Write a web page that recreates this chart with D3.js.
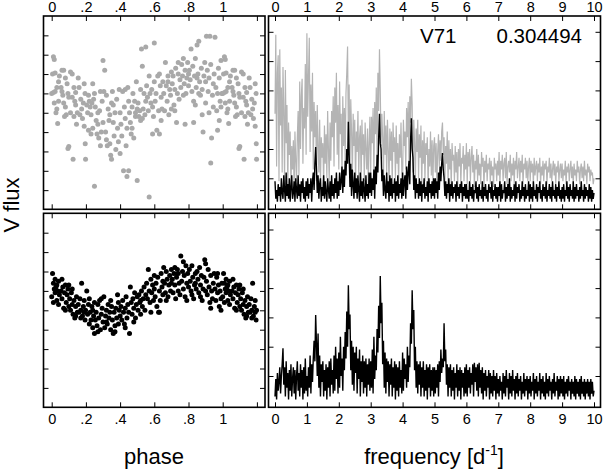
<!DOCTYPE html>
<html><head><meta charset="utf-8">
<script src="https://cdn.jsdelivr.net/npm/d3@7"></script>
<style>
html,body{margin:0;padding:0;background:#fff;}
svg{display:block;}
text{font-family:"Liberation Sans",Arial,Helvetica,sans-serif;}
</style></head>
<body>
<svg id="c" width="603" height="471"></svg>
<script>
// ---------------- DATA ----------------
const starName = "V71";
const periodLabel = "0.304494";
const phaseTicks = [0, 0.2, 0.4, 0.6, 0.8, 1, 1.2];
const phaseTickLabels = ["0", ".2", ".4", ".6", ".8", "1", ""];
const freqTicks = [0,1,2,3,4,5,6,7,8,9,10];
const fluxTicks = [1,2,3,4,5,6,7,8,9];
const powerTicks = [1,2,3,4,5,6];
const freqStep = 0.025;

// original light curve, phased [phase, flux]
const phasedOriginal = [
[0.01,7.9],[0.015,7.75],[0.005,7.0],[0.02,7.05],[0.0,6.0],[0.01,6.05],[0.02,6.1],[0.03,5.2],[0.025,5.0],[0.035,4.45],[0.04,5.6],[0.04,6.6],[0.045,6.9],[0.03,6.3],[0.015,5.5],
[0.06,7.2],[0.07,7.2],[0.08,6.8],[0.055,6.3],[0.065,5.9],[0.07,5.5],[0.08,5.3],[0.085,4.9],[0.09,6.5],[0.095,6.0],[0.1,3.25],[0.095,3.15],[0.06,6.1],[0.075,4.8],[0.1,5.8],
[0.11,7.1],[0.12,7.0],[0.13,6.3],[0.12,5.8],[0.14,5.4],[0.11,5.0],[0.13,4.8],[0.14,6.05],[0.125,2.6],[0.15,5.0],[0.145,4.4],[0.135,5.6],
[0.155,6.8],[0.16,6.3],[0.17,5.7],[0.175,5.2],[0.18,4.7],[0.19,4.3],[0.195,6.0],[0.198,2.6],[0.196,3.4],[0.165,4.9],[0.185,5.5],[0.19,6.5],
[0.205,5.4],[0.21,5.0],[0.215,5.9],[0.22,5.6],[0.225,5.3],[0.23,4.9],[0.235,5.5],[0.24,4.2],[0.245,5.7],[0.25,6.0],[0.215,4.1],[0.23,3.9],[0.24,6.5],[0.25,1.2],
[0.255,5.3],[0.26,4.6],[0.27,4.4],[0.275,3.7],[0.28,5.1],[0.285,6.1],[0.29,4.0],[0.3,7.7],[0.295,5.6],[0.27,5.0],[0.265,3.9],[0.285,3.3],[0.3,4.5],
[0.31,7.2],[0.305,6.1],[0.315,4.0],[0.32,3.6],[0.33,5.2],[0.335,4.6],[0.34,3.4],[0.345,2.8],[0.35,5.5],[0.32,5.9],[0.325,3.3],[0.35,2.6],[0.34,4.9],
[0.355,6.1],[0.36,4.5],[0.365,3.8],[0.37,5.0],[0.38,5.7],[0.385,4.2],[0.39,3.5],[0.395,6.2],[0.4,5.0],[0.375,3.1],[0.4,2.9],[0.36,5.4],
[0.405,4.4],[0.41,3.8],[0.415,6.1],[0.42,2.0],[0.425,5.3],[0.43,4.7],[0.435,3.3],[0.44,1.7],[0.445,6.3],[0.45,5.6],[0.45,2.0],[0.43,6.2],[0.44,4.2],
[0.455,5.0],[0.46,4.5],[0.465,3.9],[0.47,5.3],[0.475,6.0],[0.48,3.7],[0.485,5.6],[0.49,4.8],[0.495,6.6],[0.5,5.2],[0.5,1.5],[0.47,4.2],[0.49,5.0],
[0.505,5.5],[0.51,4.8],[0.515,5.1],[0.52,6.2],[0.525,8.3],[0.53,7.4],[0.53,4.7],[0.535,5.2],[0.54,6.0],[0.545,4.9],[0.55,5.6],[0.55,8.4],[0.52,4.6],
[0.555,6.4],[0.56,5.8],[0.565,5.1],[0.57,0.65],[0.57,6.9],[0.575,6.0],[0.58,5.5],[0.585,6.2],[0.59,5.3],[0.595,4.8],[0.6,6.6],[0.6,8.6],[0.59,3.9],
[0.605,5.6],[0.61,6.0],[0.615,4.1],[0.62,6.9],[0.625,5.1],[0.63,3.9],[0.635,6.4],[0.64,5.8],[0.645,5.2],[0.65,6.6],[0.63,7.0],[0.64,4.6],
[0.655,6.0],[0.66,5.1],[0.665,7.6],[0.67,6.4],[0.675,5.6],[0.68,6.9],[0.685,4.9],[0.69,6.2],[0.695,5.9],[0.7,7.1],[0.7,5.2],[0.68,6.6],
[0.705,6.5],[0.71,6.9],[0.715,5.4],[0.72,6.2],[0.725,7.3],[0.73,4.5],[0.735,6.0],[0.74,7.0],[0.745,5.7],[0.75,6.7],[0.74,7.6],[0.72,5.1],
[0.755,6.3],[0.76,7.5],[0.765,6.9],[0.77,5.9],[0.775,6.5],[0.78,7.2],[0.785,6.0],[0.79,6.8],[0.795,7.6],[0.8,6.4],[0.78,4.4],[0.8,7.0],[0.77,7.8],
[0.805,7.2],[0.81,6.7],[0.815,8.3],[0.82,6.1],[0.825,7.4],[0.83,5.6],[0.835,6.9],[0.84,7.8],[0.845,6.3],[0.85,8.5],[0.83,4.5],[0.85,6.8],[0.84,5.4],
[0.855,7.0],[0.86,8.7],[0.865,6.6],[0.87,5.9],[0.875,7.3],[0.88,6.2],[0.885,4.0],[0.89,6.9],[0.895,7.6],[0.9,5.5],[0.88,4.9],[0.9,6.6],[0.86,6.0],
[0.905,8.95],[0.91,7.2],[0.915,6.1],[0.92,6.8],[0.925,8.95],[0.93,2.4],[0.935,3.7],[0.94,5.9],[0.945,6.5],[0.95,7.0],[0.93,7.5],[0.945,5.3],[0.92,5.0],
[0.955,8.9],[0.96,6.3],[0.965,5.1],[0.97,6.0],[0.975,7.3],[0.98,4.6],[0.985,5.6],[0.99,7.7],[0.995,6.0],[0.97,4.1],[0.99,5.3],[0.98,6.8]
];

// prewhitened light curve, phased [phase, flux]
const phasedCleaned = [
[0.005,6.9],[0.01,6.4],[0.0,5.7],[0.015,6.1],[0.02,5.9],[0.025,6.2],[0.03,5.5],[0.035,6.0],[0.04,6.5],[0.045,5.8],[0.01,5.4],[0.03,6.3],[0.04,5.3],[0.02,6.6],
[0.055,6.0],[0.06,5.6],[0.065,6.2],[0.07,5.1],[0.075,5.9],[0.08,6.3],[0.085,5.4],[0.09,5.8],[0.095,6.1],[0.1,5.2],[0.06,6.6],[0.08,5.0],[0.1,6.3],
[0.105,5.6],[0.11,5.0],[0.115,5.9],[0.12,5.3],[0.125,4.8],[0.13,5.5],[0.135,4.6],[0.14,5.2],[0.145,5.7],[0.15,4.9],[0.12,6.1],[0.14,4.7],
[0.155,5.3],[0.16,4.9],[0.165,5.6],[0.17,5.0],[0.175,6.4],[0.18,4.7],[0.185,5.2],[0.19,5.5],[0.195,4.5],[0.198,5.0],[0.17,4.6],[0.19,4.9],
[0.205,6.0],[0.21,4.8],[0.215,5.3],[0.22,4.3],[0.225,4.9],[0.23,4.5],[0.235,5.2],[0.24,4.1],[0.245,4.7],[0.25,5.4],[0.25,3.8],[0.22,5.6],[0.24,5.0],
[0.255,4.5],[0.26,4.9],[0.265,4.2],[0.27,5.3],[0.275,4.6],[0.28,5.5],[0.285,4.0],[0.29,4.8],[0.295,5.1],[0.3,4.4],[0.27,3.9],[0.29,5.6],
[0.305,5.7],[0.31,4.1],[0.315,4.7],[0.32,5.0],[0.325,4.3],[0.33,5.3],[0.335,4.6],[0.34,4.9],[0.345,4.0],[0.35,5.2],[0.32,4.4],[0.345,5.5],
[0.355,4.5],[0.36,3.8],[0.365,4.9],[0.37,4.2],[0.375,5.1],[0.38,4.6],[0.385,5.8],[0.39,4.3],[0.395,5.0],[0.4,4.7],[0.37,3.9],[0.39,5.4],
[0.405,5.2],[0.41,4.5],[0.415,5.5],[0.42,4.9],[0.425,4.3],[0.43,5.1],[0.435,5.7],[0.44,4.6],[0.445,5.3],[0.45,4.9],[0.43,4.1],
[0.455,3.8],[0.46,6.2],[0.465,5.4],[0.47,4.8],[0.475,5.6],[0.48,5.1],[0.485,5.9],[0.49,4.6],[0.495,5.3],[0.5,5.7],[0.48,4.4],
[0.505,5.0],[0.51,5.8],[0.515,5.4],[0.52,4.8],[0.525,6.0],[0.53,5.2],[0.535,5.6],[0.54,6.2],[0.545,5.0],[0.55,5.8],[0.52,5.5],
[0.555,6.4],[0.56,5.6],[0.565,7.1],[0.57,6.0],[0.575,5.4],[0.58,6.6],[0.585,5.9],[0.59,6.3],[0.595,5.5],[0.6,6.1],[0.58,4.9],[0.6,6.8],
[0.605,5.7],[0.61,6.4],[0.615,5.2],[0.62,6.7],[0.625,4.9],[0.63,6.0],[0.635,5.5],[0.64,6.9],[0.645,6.2],[0.65,5.8],[0.63,4.9],[0.65,6.5],
[0.655,7.2],[0.66,6.4],[0.665,5.9],[0.67,7.0],[0.675,6.6],[0.68,5.7],[0.685,6.3],[0.69,6.8],[0.695,6.0],[0.7,7.1],[0.67,5.5],[0.7,6.4],
[0.705,6.6],[0.71,5.9],[0.715,6.9],[0.72,6.3],[0.725,5.6],[0.73,6.7],[0.735,7.1],[0.74,6.0],[0.745,6.4],[0.75,5.8],[0.72,7.2],[0.74,6.9],
[0.755,7.8],[0.76,6.5],[0.765,7.0],[0.77,6.1],[0.775,6.8],[0.78,5.7],[0.785,7.3],[0.79,6.4],[0.795,6.9],[0.8,6.2],[0.77,7.5],[0.79,5.5],
[0.805,7.1],[0.81,6.5],[0.815,6.0],[0.82,7.3],[0.825,6.7],[0.83,5.6],[0.835,6.3],[0.84,6.9],[0.845,6.1],[0.85,7.0],[0.82,5.8],[0.84,6.4],
[0.855,6.6],[0.86,5.9],[0.865,7.2],[0.87,6.3],[0.875,6.8],[0.88,5.5],[0.885,6.1],[0.89,6.7],[0.895,7.6],[0.9,6.0],[0.87,5.7],[0.9,7.4],
[0.905,6.5],[0.91,5.8],[0.915,7.1],[0.92,6.2],[0.925,5.4],[0.93,6.8],[0.935,6.0],[0.94,5.6],[0.945,6.4],[0.95,6.9],[0.93,5.1],
[0.955,6.1],[0.96,5.5],[0.965,6.7],[0.97,5.9],[0.975,6.3],[0.98,5.2],[0.985,6.0],[0.99,5.6],[0.995,6.4],[0.97,6.9],[0.99,5.0]
];

// periodogram of original data (grey), frequency step 0.025 from 0 to 10 (40 values per d^-1)
const powerOriginal = [
3.2,5.9,1.4,4.6,5.2,0.9,5.4,2.8,4.1,1.2,4.8,3.3,0.8,4.7,2.2,3.5,0.6,2.9,1.8,2.6,0.7,2.1,1.3,2.3,0.5,2.6,1.6,0.9,2.4,3.3,1.1,4.3,2.0,3.8,4.4,1.5,3.4,2.7,4.9,1.8,
5.95,3.1,4.5,5.8,1.9,4.2,2.6,4.6,1.3,3.6,2.4,3.3,0.9,3.5,2.1,1.2,3.0,0.8,2.4,1.7,2.2,0.7,2.8,1.5,2.5,1.0,3.3,2.0,0.9,2.9,1.6,3.3,2.4,3.8,1.4,4.1,2.9,4.6,1.8,3.5,
1.3,4.3,2.5,3.2,0.9,3.8,2.1,3.4,1.6,3.9,4.6,5.5,2.3,4.2,1.2,3.7,2.6,1.0,3.2,2.1,3.0,0.8,2.6,1.9,3.3,1.1,2.4,2.8,0.7,3.0,1.8,2.5,0.9,2.9,2.0,1.3,2.7,0.8,2.2,3.1,
1.2,3.1,2.2,3.4,1.0,3.6,2.5,4.1,1.8,4.6,3.3,5.4,4.0,2.1,3.2,2.4,0.9,3.3,1.8,2.8,1.1,3.0,2.0,0.8,2.7,1.6,2.6,0.7,2.9,1.9,2.4,1.0,2.8,1.5,2.2,0.8,2.5,1.7,2.9,1.2,
0.9,3.0,2.1,2.6,1.3,3.4,2.4,3.6,1.6,3.8,2.9,4.4,3.5,1.2,3.0,2.2,0.8,2.7,1.9,3.0,1.0,2.5,1.7,2.8,0.7,2.3,1.5,2.6,0.9,2.2,1.8,2.4,0.6,2.0,1.4,2.6,1.1,2.3,0.8,2.1,
2.4,1.2,2.2,0.8,1.9,2.5,1.4,2.3,1.6,2.6,2.9,1.8,2.4,0.9,2.1,1.5,2.6,0.8,2.3,1.3,2.0,0.7,2.2,1.6,1.8,0.9,2.1,1.2,1.9,0.6,2.0,1.4,2.2,0.8,1.7,1.5,2.1,0.9,1.8,1.3,
2.2,0.8,1.9,1.4,2.0,0.9,1.7,2.1,1.2,1.8,0.7,1.6,1.3,2.0,0.9,1.8,1.1,1.5,0.8,1.9,1.4,1.7,0.7,1.6,1.2,1.8,0.9,1.5,1.3,1.7,0.8,1.6,1.1,1.4,0.7,1.7,1.3,1.5,0.9,1.6,
1.1,1.9,0.8,1.6,1.3,1.8,0.9,1.5,1.7,1.0,1.9,0.8,1.4,1.6,1.2,1.8,0.9,1.5,1.1,1.7,0.8,1.6,1.3,1.9,1.0,1.4,1.7,0.9,1.6,1.2,1.8,0.8,1.5,1.3,1.7,1.0,1.6,0.9,1.4,1.7,
0.9,1.6,1.2,1.5,0.8,1.7,1.1,1.4,1.6,0.9,1.5,1.2,1.7,0.8,1.4,1.1,1.6,0.9,1.5,1.3,1.6,0.8,1.4,1.2,1.7,1.0,1.5,0.9,1.3,1.6,1.1,1.5,0.8,1.4,1.2,1.6,0.9,1.3,1.5,1.0,
1.5,0.9,1.3,1.1,1.6,0.8,1.4,1.2,1.5,0.9,1.3,1.6,1.0,1.4,0.8,1.5,1.1,1.3,0.9,1.6,1.2,1.4,0.8,1.3,1.5,1.0,1.4,0.9,1.6,1.1,1.3,0.8,1.5,1.2,1.4,0.9,1.3,1.1,1.2,0.8,
1.0
];

// periodogram after prewhitening (black, top panel)
const powerResidualTop = [
0.9,0.3,0.6,0.2,0.8,0.4,0.7,0.2,1.0,0.5,0.3,1.1,0.6,0.2,1.2,0.4,0.8,0.3,1.0,0.2,0.7,1.1,0.3,0.5,0.9,0.2,1.0,0.6,0.3,1.1,0.4,0.8,0.2,0.9,0.5,1.0,0.3,0.7,0.2,0.9,
0.4,1.0,0.3,0.8,0.5,1.0,0.2,0.9,1.2,0.6,1.5,2.07,1.3,0.5,1.1,0.3,0.8,1.0,0.2,0.7,0.4,1.1,0.3,0.9,0.5,0.2,1.0,0.6,0.3,0.9,0.2,1.1,0.4,0.8,0.3,1.0,0.5,1.2,0.3,0.9,
0.4,1.2,0.6,0.9,1.4,0.5,1.3,0.7,1.6,1.1,2.0,1.5,2.93,1.8,0.7,1.5,0.4,1.3,0.8,0.3,1.2,0.5,1.0,0.3,1.1,0.6,0.2,1.2,0.4,0.9,0.3,1.0,0.6,0.2,1.1,0.4,0.8,0.3,1.2,0.5,
1.2,0.4,1.0,0.6,1.3,0.3,1.4,0.8,1.8,1.2,2.4,3.2,2.2,2.0,0.9,1.3,0.4,1.1,0.6,0.3,1.2,0.5,0.9,0.2,1.1,0.4,1.0,0.3,0.8,0.5,1.0,0.2,0.9,0.4,1.1,0.3,0.8,0.5,1.0,0.3,
1.2,0.4,0.9,1.1,0.3,1.4,0.6,1.2,1.6,0.8,2.3,3.05,2.0,1.7,0.6,1.1,0.3,1.0,0.5,0.8,0.3,1.0,0.4,0.9,0.2,0.8,0.5,1.0,0.3,0.7,0.4,0.9,0.2,1.0,0.5,0.8,0.3,0.9,0.4,1.0,
0.3,1.0,0.5,0.9,0.3,1.2,0.6,1.4,0.9,1.5,1.86,1.3,1.0,0.4,0.9,0.3,0.8,0.5,1.0,0.2,0.8,0.4,0.9,0.3,0.7,0.5,0.8,0.2,0.9,0.4,0.7,0.3,0.8,0.5,0.9,0.2,0.7,0.4,0.8,0.3,
0.8,0.3,0.6,0.2,0.9,0.4,0.7,0.3,0.8,0.2,0.6,0.5,0.9,0.3,0.7,0.2,0.8,0.4,0.6,0.3,0.9,0.2,0.7,0.4,0.8,0.3,0.6,0.2,0.8,0.5,0.7,0.3,0.9,0.2,0.6,0.4,0.8,0.3,0.7,0.2,
0.7,0.4,0.9,0.2,0.8,0.3,0.6,0.5,0.9,0.2,0.7,0.3,0.8,0.4,1.0,0.2,0.7,0.3,0.6,0.4,0.8,0.2,0.9,0.3,0.7,0.5,0.8,0.2,0.6,0.3,0.9,0.4,0.7,0.2,0.8,0.3,0.6,0.4,0.9,0.2,
0.8,0.3,0.7,0.2,0.9,0.4,0.6,0.3,0.8,0.2,0.7,0.5,0.9,0.3,0.6,0.2,0.8,0.4,0.7,0.3,0.9,0.2,0.6,0.4,0.8,0.3,0.7,0.2,0.9,0.4,0.6,0.3,0.8,0.2,0.7,0.4,0.9,0.3,0.6,0.2,
0.7,0.3,0.8,0.2,0.6,0.4,0.9,0.3,0.7,0.2,0.8,0.4,0.6,0.3,0.9,0.2,0.7,0.3,0.8,0.4,0.6,0.2,0.7,0.3,0.9,0.4,0.6,0.2,0.8,0.3,0.7,0.4,0.6,0.2,0.8,0.3,0.7,0.2,0.6,0.3,
0.5
];

// periodogram of prewhitened data (bottom panel)
const powerResidualBottom = [
0.3,0.9,0.2,1.1,0.5,0.8,1.3,0.4,1.0,1.4,1.95,0.7,1.3,0.3,1.5,0.6,1.1,0.2,1.2,0.5,1.4,0.3,0.9,1.3,0.4,1.2,0.2,1.0,1.5,0.5,1.1,0.3,1.4,0.6,1.2,0.2,1.3,0.4,1.6,0.5,
1.0,0.3,1.3,0.6,1.7,0.4,1.4,0.8,1.6,2.2,1.5,3.08,2.1,1.0,2.45,0.6,1.7,0.3,1.4,0.8,1.5,0.3,1.2,0.5,1.4,0.2,1.3,0.6,1.5,0.3,1.6,0.7,1.2,0.4,1.7,0.5,2.0,0.9,1.6,0.4,
1.8,0.6,2.34,1.0,1.6,0.5,2.0,1.2,2.5,1.6,3.2,2.0,4.1,2.6,3.1,1.2,2.2,0.7,2.0,0.5,1.8,1.1,2.0,0.4,1.6,0.9,1.9,0.3,1.5,0.8,1.7,0.4,1.5,0.6,1.6,0.3,1.4,0.7,1.6,0.5,
1.5,0.6,1.9,0.4,2.34,0.9,1.7,1.2,2.6,1.8,3.4,2.3,4.41,2.8,3.5,1.4,2.2,0.6,1.8,0.4,1.6,0.8,1.5,0.3,1.4,0.7,1.6,0.3,1.3,0.6,1.5,0.2,1.4,0.5,1.3,0.3,1.5,0.6,1.2,0.4,
1.8,0.5,1.6,0.9,1.4,0.6,2.0,0.8,1.7,1.3,2.8,2.1,3.93,2.6,3.25,1.2,2.0,0.6,1.5,0.4,1.4,0.7,1.5,0.3,1.3,0.6,1.5,0.3,1.2,0.5,1.4,0.2,1.3,0.6,1.4,0.3,1.2,0.5,1.3,0.3,
1.3,0.4,1.2,0.6,1.4,0.3,1.5,0.8,1.9,1.1,1.6,1.3,2.8,1.5,1.9,0.7,1.4,0.3,1.3,0.6,1.4,0.3,1.2,0.5,1.3,0.2,1.1,0.6,1.4,0.3,1.2,0.5,1.3,0.2,1.2,0.6,1.1,0.3,1.3,0.4,
1.4,0.3,1.2,0.6,1.3,0.4,1.1,0.7,1.4,0.3,1.45,0.8,1.3,0.5,1.4,0.3,1.45,0.6,1.2,0.4,1.3,0.2,1.1,0.5,1.2,0.3,1.0,0.6,1.2,0.2,1.1,0.4,1.0,0.3,1.2,0.5,1.0,0.2,1.1,0.4,
0.9,0.3,1.0,0.5,0.8,0.2,1.1,0.4,1.0,0.3,1.2,0.6,0.9,0.2,1.1,0.4,1.0,0.3,1.2,0.5,0.9,0.2,1.0,0.4,1.1,0.3,0.9,0.5,1.0,0.2,0.8,0.4,1.1,0.3,0.9,0.5,1.0,0.2,0.9,0.4,
1.0,0.3,0.8,0.5,1.1,0.2,0.9,0.4,1.0,0.3,0.8,0.5,1.1,0.2,0.9,0.4,1.0,0.3,0.8,0.2,1.1,0.4,0.9,0.3,1.0,0.5,0.8,0.2,0.9,0.4,1.1,0.3,0.8,0.5,1.0,0.2,0.9,0.3,1.0,0.4,
0.9,0.3,1.0,0.2,0.8,0.4,0.9,0.3,1.0,0.5,0.8,0.2,0.9,0.4,0.8,0.3,1.0,0.2,0.9,0.4,0.8,0.3,0.9,0.2,1.0,0.4,0.8,0.3,0.9,0.2,0.8,0.4,0.9,0.3,0.8,0.2,0.9,0.4,0.8,0.3,
0.5
];

// ---------------- LAYOUT ----------------
const svg = d3.select("#c");
const colL = [43.5, 265], colR = [268.5, 600.5];
const rowT = [16, 209.3], rowB = [213.3, 407.3];
const FONT = '"Liberation Sans",Arial,Helvetica,sans-serif';

const xPhase = d3.scaleLinear().domain([0, 1]).range([51.7, 222.7]);
const xFreq = d3.scaleLinear().domain([0, 10]).range([275, 594]);
const yFluxT = d3.scaleLinear().domain([0, 10]).range([209.5, 16]);
const yFluxB = d3.scaleLinear().domain([0, 10]).range([407.3, 213.3]);
const yPowT = d3.scaleLinear().domain([0, 6]).range([207.6, 207.6 - 6 * 29.3]);
const yPowB = d3.scaleLinear().domain([0, 6]).range([405.3, 405.3 - 6 * 29.3]);

svg.append("rect").attr("width", 603).attr("height", 471).attr("fill", "#fff");

const defs = svg.append("defs");
function clip(id, xr, yr) {
  defs.append("clipPath").attr("id", id).append("rect")
    .attr("x", xr[0]).attr("y", yr[0]).attr("width", xr[1] - xr[0]).attr("height", yr[1] - yr[0]);
  return "url(#" + id + ")";
}
const cTL = clip("cTL", colL, rowT), cTR = clip("cTR", colR, rowT),
      cBL = clip("cBL", colL, rowB), cBR = clip("cBR", colR, rowB);

// phased scatter (phases below 0.2 repeated at 1.0-1.2 as in the figure)
function wrapped(pts) {
  return pts.concat(pts.filter(d => d[0] < 0.2).map(d => [d[0] + 1, d[1]]));
}
svg.append("g").attr("clip-path", cTL).selectAll("circle")
  .data(wrapped(phasedOriginal)).join("circle")
  .attr("cx", d => xPhase(d[0])).attr("cy", d => yFluxT(d[1]))
  .attr("r", 2.5).attr("fill", "#a9a9a9");
svg.append("g").attr("clip-path", cBL).selectAll("circle")
  .data(wrapped(phasedCleaned)).join("circle")
  .attr("cx", d => xPhase(d[0])).attr("cy", d => yFluxB(d[1]))
  .attr("r", 2.5).attr("fill", "#000");

// periodograms
function pline(yScale) {
  return d3.line().x((d, i) => xFreq(i * freqStep)).y(d => yScale(d));
}
svg.append("path").attr("clip-path", cTR).datum(powerOriginal)
  .attr("d", pline(yPowT)).attr("fill", "none").attr("stroke", "#b4b4b4").attr("stroke-width", 1.2);
svg.append("path").attr("clip-path", cTR).datum(powerResidualTop)
  .attr("d", pline(yPowT)).attr("fill", "none").attr("stroke", "#000").attr("stroke-width", 1.4);
svg.append("path").attr("clip-path", cBR).datum(powerResidualBottom)
  .attr("d", pline(yPowB)).attr("fill", "none").attr("stroke", "#000").attr("stroke-width", 1.4);

// axes (inward ticks on all four sides)
function axes(xs, ys, xr, yr, xt, yt, opt) {
  const g = svg.append("g");
  const tl = 5;
  const top = d3.axisTop(xs).tickValues(xt).tickSize(-tl).tickPadding(4)
    .tickFormat(opt.topLabels ? ((d, i) => opt.fmt(d, i)) : "");
  const bot = d3.axisBottom(xs).tickValues(xt).tickSize(-tl).tickPadding(6.5)
    .tickFormat(opt.botLabels ? ((d, i) => opt.fmt(d, i)) : "");
  const lef = d3.axisLeft(ys).tickValues(yt).tickSize(-tl).tickFormat("");
  const rig = d3.axisRight(ys).tickValues(yt).tickSize(-tl).tickFormat("");
  [[top, `translate(0,${yr[0]})`], [bot, `translate(0,${yr[1]})`],
   [lef, `translate(${xr[0]},0)`], [rig, `translate(${xr[1]},0)`]].forEach(([a, t]) => {
    const ag = g.append("g").attr("transform", t).call(a);
    ag.select(".domain").remove();
    ag.selectAll("line").attr("stroke", "#000").attr("stroke-width", 1);
    ag.selectAll("text").attr("font-family", FONT).attr("font-size", 14.5).attr("fill", "#000");
  });
  g.append("rect").attr("x", xr[0]).attr("y", yr[0])
    .attr("width", xr[1] - xr[0]).attr("height", yr[1] - yr[0])
    .attr("fill", "none").attr("stroke", "#000").attr("stroke-width", 1.6);
}
const phaseFmt = d => phaseTickLabels[phaseTicks.indexOf(d)];
const freqFmt = d => String(d);
axes(xPhase, yFluxT, colL, rowT, phaseTicks, fluxTicks, { topLabels: true, botLabels: false, fmt: phaseFmt });
axes(xPhase, yFluxB, colL, rowB, phaseTicks, fluxTicks, { topLabels: false, botLabels: true, fmt: phaseFmt });
axes(xFreq, yPowT, colR, rowT, freqTicks, powerTicks, { topLabels: true, botLabels: false, fmt: freqFmt });
axes(xFreq, yPowB, colR, rowB, freqTicks, powerTicks, { topLabels: false, botLabels: true, fmt: freqFmt });

// annotations
svg.append("text").attr("x", 420).attr("y", 43).attr("font-size", 20.5).attr("font-family", FONT).text(starName);
svg.append("text").attr("x", 582).attr("y", 43).attr("text-anchor", "end").attr("font-size", 20.5).attr("font-family", FONT).text(periodLabel);

// axis titles
svg.append("text").attr("transform", "translate(19,205) rotate(-90)")
  .attr("text-anchor", "middle").attr("font-size", 22).attr("font-family", FONT).text("V flux");
svg.append("text").attr("x", 154).attr("y", 464)
  .attr("text-anchor", "middle").attr("font-size", 22).attr("font-family", FONT).text("phase");
const ft = svg.append("text").attr("x", 434).attr("y", 464)
  .attr("text-anchor", "middle").attr("font-size", 22).attr("font-family", FONT);
ft.append("tspan").text("frequency [d");
ft.append("tspan").attr("font-size", 14).attr("dy", -9).text("-1");
ft.append("tspan").attr("dy", 9).text("]");
</script>
</body></html>
